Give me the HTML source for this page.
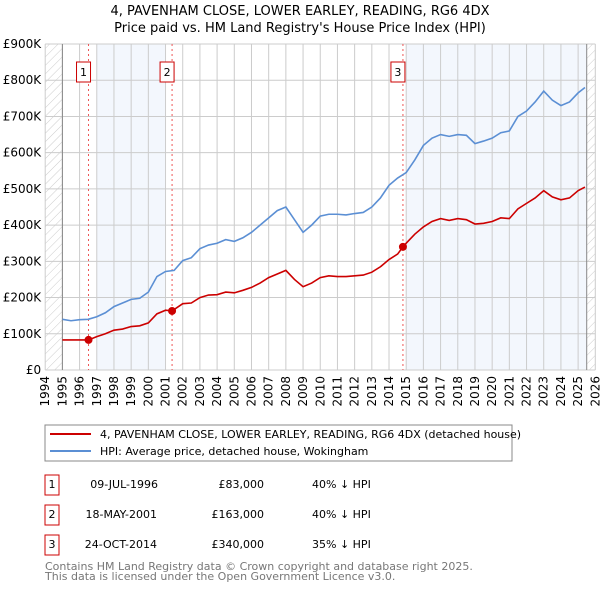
<!DOCTYPE html>
<html><head><meta charset="utf-8"><style>
body{margin:0;background:#fff;font-family:"DejaVu Sans","Liberation Sans",sans-serif;}
svg text{font-family:"DejaVu Sans","Liberation Sans",sans-serif;}
</style></head><body>
<svg id="chart" width="600" height="590" xmlns="http://www.w3.org/2000/svg">
<defs><pattern id="hatch" width="6" height="6" patternUnits="userSpaceOnUse" patternTransform="rotate(45)"><line x1="0" y1="0" x2="0" y2="6" stroke="#ccc" stroke-width="1"/></pattern></defs>
<text x="300" y="15" text-anchor="middle" font-size="13">4, PAVENHAM CLOSE, LOWER EARLEY, READING, RG6 4DX</text>
<text x="300" y="32" text-anchor="middle" font-size="13">Price paid vs. HM Land Registry's House Price Index (HPI)</text>
<g id="plot"></g>
<rect x="45" y="425" width="467" height="36" fill="none" stroke="#888"/>
<line x1="50" y1="434" x2="91" y2="434" stroke="#cc0000" stroke-width="2"/>
<text x="100" y="438" font-size="11">4, PAVENHAM CLOSE, LOWER EARLEY, READING, RG6 4DX (detached house)</text>
<line x1="50" y1="451" x2="91" y2="451" stroke="#5b8fd4" stroke-width="2"/>
<text x="100" y="455" font-size="11">HPI: Average price, detached house, Wokingham</text>
<g font-size="11">
<rect x="45" y="475" width="14" height="20" fill="none" stroke="#cc0000"/><text x="52" y="488" text-anchor="middle">1</text>
<text x="158" y="488" text-anchor="end">09-JUL-1996</text><text x="264" y="488" text-anchor="end">£83,000</text><text x="312" y="488">40% ↓ HPI</text>
<rect x="45" y="505" width="14" height="20" fill="none" stroke="#cc0000"/><text x="52" y="518" text-anchor="middle">2</text>
<text x="157" y="518" text-anchor="end">18-MAY-2001</text><text x="264" y="518" text-anchor="end">£163,000</text><text x="312" y="518">40% ↓ HPI</text>
<rect x="45" y="535" width="14" height="20" fill="none" stroke="#cc0000"/><text x="52" y="548" text-anchor="middle">3</text>
<text x="157" y="548" text-anchor="end">24-OCT-2014</text><text x="264" y="548" text-anchor="end">£340,000</text><text x="312" y="548">35% ↓ HPI</text>
</g>
<text x="45" y="570" font-size="11" fill="#777">Contains HM Land Registry data © Crown copyright and database right 2025.</text>
<text x="45" y="580" font-size="11" fill="#777">This data is licensed under the Open Government Licence v3.0.</text>
</svg>
<script>
const hpiYears=[1995,1995.5,1996,1996.5,1997,1997.5,1998,1998.5,1999,1999.5,2000,2000.5,2001,2001.5,2002,2002.5,2003,2003.5,2004,2004.5,2005,2005.5,2006,2006.5,2007,2007.5,2008,2008.5,2009,2009.5,2010,2010.5,2011,2011.5,2012,2012.5,2013,2013.5,2014,2014.5,2015,2015.5,2016,2016.5,2017,2017.5,2018,2018.5,2019,2019.5,2020,2020.5,2021,2021.5,2022,2022.5,2023,2023.5,2024,2024.5,2025,2025.4];
const hpiValues=[140,136,139,140,147,158,175,185,195,198,215,258,272,275,302,310,335,345,350,360,355,365,380,400,420,440,450,415,380,400,425,430,430,428,432,435,450,475,510,530,545,580,620,640,650,645,650,648,625,632,640,655,660,700,715,740,770,745,730,740,765,780];
const priceYears=[1995,1996.52,1997,1997.5,1998,1998.5,1999,1999.5,2000,2000.5,2001,2001.38,2002,2002.5,2003,2003.5,2004,2004.5,2005,2005.5,2006,2006.5,2007,2007.5,2008,2008.5,2009,2009.5,2010,2010.5,2011,2011.5,2012,2012.5,2013,2013.5,2014,2014.5,2014.81,2015,2015.5,2016,2016.5,2017,2017.5,2018,2018.5,2019,2019.5,2020,2020.5,2021,2021.5,2022,2022.5,2023,2023.5,2024,2024.5,2025,2025.4];
const priceValues=[83,83,92,100,110,113,120,122,130,155,165,163,183,185,200,207,208,215,213,220,228,240,255,265,275,250,230,240,255,260,258,258,260,262,270,285,305,320,340,350,375,395,410,418,413,418,415,403,405,410,420,418,445,460,475,495,478,470,475,495,505];
const saleYears=[1996.52,2001.38,2014.81];
const saleValues=[83,163,340];
const saleLabels=["1","2","3"];
const yTicks=[0,100,200,300,400,500,600,700,800,900];
const yTickLabels=["£0","£100K","£200K","£300K","£400K","£500K","£600K","£700K","£800K","£900K"];
const xTicks=[1994,1995,1996,1997,1998,1999,2000,2001,2002,2003,2004,2005,2006,2007,2008,2009,2010,2011,2012,2013,2014,2015,2016,2017,2018,2019,2020,2021,2022,2023,2024,2025,2026];

const X0=45.2,X1=595.3,Y0=370,Y1=44;
const xs=y=>X0+(y-1994)/(32)*(X1-X0);
const ys=v=>Y0-v/900*(Y0-Y1);
const NS="http://www.w3.org/2000/svg";
const g=document.getElementById('plot');
function mk(t,a){const e=document.createElementNS(NS,t);for(const k in a)e.setAttribute(k,a[k]);g.appendChild(e);return e;}
let e;
e=mk('rect',{x:xs(1997),y:Y1,width:xs(2001)-xs(1997),height:Y0-Y1,fill:'#eef3fc',opacity:0.7});


e=mk('rect',{x:xs(2015),y:Y1,width:xs(2025.5)-xs(2015),height:Y0-Y1,fill:'#eef3fc',opacity:0.7});


e=mk('rect',{x:X0,y:Y1,width:xs(1995)-X0,height:Y0-Y1,fill:'url(#hatch)'});


e=mk('rect',{x:xs(2025.5),y:Y1,width:X1-xs(2025.5),height:Y0-Y1,fill:'url(#hatch)'});


yTicks.forEach((v,i)=>{
 e=mk('line',{x1:X0,x2:X1,y1:ys(v),y2:ys(v),stroke:'#ccc'});
 
 
 e=mk('text',{x:X0-4,y:ys(v)+4,'text-anchor':'end','font-size':'12'});e.textContent=yTickLabels[i];
 
 
});
xTicks.forEach(y=>{
 e=mk('line',{x1:xs(y),x2:xs(y),y1:Y1,y2:Y0,stroke:'#ccc'});
 
 
 e=mk('text',{x:0,y:0,'font-size':'12','text-anchor':'end',transform:`translate(${xs(y)+4},${Y0+6}) rotate(-90)`});e.textContent=y;
 
 
});
e=mk('line',{x1:xs(1995),x2:xs(1995),y1:Y1,y2:Y0,stroke:'#888'});


e=mk('line',{x1:xs(2025.5),x2:xs(2025.5),y1:Y1,y2:Y0,stroke:'#888'});


saleYears.forEach((y,i)=>{
 e=mk('line',{x1:xs(y),x2:xs(y),y1:Y1,y2:Y0,stroke:'#e55','stroke-dasharray':'2,3'});
 
 
 e=mk('rect',{x:xs(y)-12,y:62,width:14,height:20,fill:'#fff',stroke:'#cc0000'});
 
 
 e=mk('text',{x:xs(y)-5,y:76,'text-anchor':'middle','font-size':'11'});e.textContent=saleLabels[i];
 
 
});
e=mk('polyline',{points:hpiYears.map((y,i)=>xs(y)+','+ys(hpiValues[i])).join(' '),fill:'none',stroke:'#5b8fd4','stroke-width':1.6});


e=mk('polyline',{points:priceYears.map((y,i)=>xs(y)+','+ys(priceValues[i])).join(' '),fill:'none',stroke:'#cc0000','stroke-width':1.6});


saleYears.forEach((y,i)=>{
 e=mk('circle',{cx:xs(y),cy:ys(saleValues[i]),r:4,fill:'#cc0000'});
 
 
});
</script>
</body></html>
